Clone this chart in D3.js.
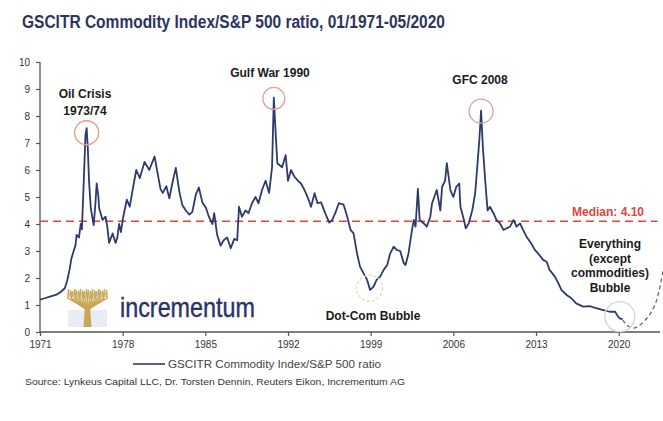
<!DOCTYPE html>
<html>
<head>
<meta charset="utf-8">
<script src="https://cdn.jsdelivr.net/npm/d3@7"></script>
<style>
  html, body { margin: 0; padding: 0; background: #fff; }
  svg { display: block; font-family: "Liberation Sans", Arial, sans-serif; }
</style>
</head>
<body>
<svg id="chart" width="663" height="421"></svg>
<script>
// GSCITR Commodity Index / S&P 500 ratio, sampled from 01/1971 to 05/2020
const years = [
  1971.0, 1971.4, 1971.9, 1972.4, 1972.8, 1973.1, 1973.3, 1973.5, 1973.65, 1973.85,
  1974.0, 1974.1, 1974.3, 1974.45, 1974.55, 1974.7, 1974.85, 1974.95, 1975.05, 1975.15,
  1975.3, 1975.45, 1975.55, 1975.7, 1975.8, 1975.95, 1976.0, 1976.3, 1976.55, 1976.7,
  1976.85, 1977.15, 1977.4, 1977.55, 1977.7, 1977.85, 1978.05, 1978.35, 1978.6, 1978.9,
  1979.15, 1979.45, 1979.85, 1980.25, 1980.7, 1980.95, 1981.2, 1981.4, 1981.7, 1981.95,
  1982.25, 1982.5, 1982.8, 1983.05, 1983.35, 1983.65, 1983.9, 1984.2, 1984.45, 1984.75,
  1985.05, 1985.3, 1985.6, 1985.75, 1986.0, 1986.3, 1986.55, 1986.85, 1987.15, 1987.45,
  1987.7, 1987.85, 1988.1, 1988.4, 1988.65, 1988.95, 1989.25, 1989.5, 1989.8, 1990.1,
  1990.4, 1990.65, 1990.8, 1990.88, 1990.95, 1991.1, 1991.5, 1991.8, 1992.0, 1992.25,
  1992.55, 1992.85, 1993.1, 1993.4, 1993.7, 1993.95, 1994.25, 1994.5, 1994.8, 1995.2,
  1995.5, 1995.75, 1996.0, 1996.3, 1996.7, 1997.0, 1997.3, 1997.55, 1997.85, 1998.1,
  1998.4, 1998.7, 1998.95, 1999.25, 1999.5, 1999.8, 2000.1, 2000.4, 2000.65, 2000.95,
  2001.2, 2001.5, 2001.8, 2001.95, 2002.2, 2002.5, 2002.65, 2002.8, 2003.0, 2003.15,
  2003.5, 2003.75, 2004.05, 2004.2, 2004.5, 2004.6, 2004.9, 2005.05, 2005.3, 2005.45,
  2005.6, 2005.75, 2006.0, 2006.25, 2006.5, 2006.6, 2006.9, 2007.05, 2007.3, 2007.6,
  2007.85, 2008.05, 2008.2, 2008.35, 2008.5, 2008.7, 2008.9, 2009.1, 2009.4, 2009.65,
  2009.95, 2010.25, 2010.5, 2010.8, 2011.1, 2011.35, 2011.65, 2011.9, 2012.2, 2012.6,
  2012.9, 2013.2, 2013.6, 2013.9, 2014.15, 2014.6, 2014.9, 2015.15, 2015.6, 2016.0,
  2016.4, 2017.0, 2017.55, 2018.1, 2018.7, 2019.25, 2019.7, 2019.95, 2020.1, 2020.33
];
const ratio = [
  1.20, 1.25, 1.32, 1.38, 1.50, 1.62, 1.90, 2.30, 2.70, 3.00,
  3.20, 3.60, 3.50, 4.00, 3.80, 5.50, 7.30, 7.55, 6.80, 5.60,
  4.60, 4.20, 3.96, 4.80, 5.50, 5.00, 4.60, 4.15, 4.27, 3.90,
  3.30, 3.65, 3.30, 3.50, 4.00, 3.70, 4.27, 4.90, 4.64, 5.40,
  6.00, 5.70, 6.30, 6.00, 6.50, 5.90, 5.30, 5.15, 5.40, 4.95,
  5.60, 6.08, 5.20, 4.70, 4.50, 4.35, 4.45, 5.10, 5.35, 4.80,
  4.60, 4.27, 4.00, 4.40, 3.60, 3.20, 3.40, 3.50, 3.10, 3.45,
  3.40, 4.64, 4.27, 4.50, 4.40, 4.77, 5.00, 4.77, 5.26, 5.60,
  5.15, 6.10, 8.68, 8.00, 7.40, 6.25, 6.10, 6.55, 5.60, 6.00,
  5.75, 5.60, 5.50, 5.26, 4.95, 4.64, 5.14, 4.77, 4.80, 4.35,
  4.05, 4.15, 4.40, 4.77, 4.72, 4.30, 3.78, 3.65, 2.90, 2.42,
  2.17, 1.93, 1.56, 1.68, 1.93, 2.05, 2.30, 2.48, 2.90, 3.16,
  3.04, 3.00, 2.55, 2.48, 2.90, 3.78, 4.15, 3.90, 5.30, 4.15,
  4.02, 3.90, 4.27, 4.77, 5.14, 5.26, 4.50, 5.38, 5.60, 6.25,
  5.75, 5.26, 5.00, 5.38, 5.50, 4.64, 4.15, 3.84, 4.02, 4.50,
  5.14, 6.25, 7.10, 8.20, 6.86, 5.60, 4.50, 4.64, 4.40, 4.15,
  4.02, 3.78, 3.84, 3.90, 4.15, 3.90, 4.02, 3.78, 3.53, 3.28,
  3.04, 2.90, 2.67, 2.60, 2.30, 2.05, 1.80, 1.56, 1.37, 1.25,
  1.06, 0.94, 0.96, 0.88, 0.81, 0.75, 0.75, 0.57, 0.50, 0.48
];

const medianValue = 4.10;
const xTicks = [1971, 1978, 1985, 1992, 1999, 2006, 2013, 2020];
const yTicks = [0, 1, 2, 3, 4, 5, 6, 7, 8, 9, 10];

// Highlighted episodes: label lines, circle centre and circle style
const eventNames = ["oil", "gulf", "gfc", "dotcom", "everything"];
const eventLabels = [["Oil Crisis", "1973/74"], ["Gulf War 1990"], ["GFC 2008"], ["Dot-Com Bubble"],
                     ["Everything", "(except", "commodities)", "Bubble"]];
const eventYears = [1974.95, 1990.8, 2008.35, 1998.9, 2020.1];
const eventValues = [7.38, 8.65, 8.18, 1.62, 0.57];
// Projected path of the deflating bubble
const bubbleYears = [2020.35, 2020.68, 2021.24, 2021.8, 2022.5, 2023.07, 2023.44, 2023.75];
const bubbleValues = [0.45, 0.26, 0.14, 0.26, 0.57, 1.00, 1.56, 2.25];

const svg = d3.select("#chart");
const W = 663, H = 421;
svg.append("rect").attr("width", W).attr("height", H).attr("fill", "#fff");

const x = d3.scaleLinear().domain([1971, 2023.5]).range([40, 660]);
const y = d3.scaleLinear().domain([0, 10]).range([332, 62]);

// Title
svg.append("text")
  .attr("x", 22).attr("y", 28)
  .attr("font-size", 18).attr("font-weight", "bold")
  .attr("fill", "#2c3560")
  .attr("textLength", 423).attr("lengthAdjust", "spacingAndGlyphs")
  .text("GSCITR Commodity Index/S&P 500 ratio, 01/1971-05/2020");

// Logo: golden tree and wordmark
const logo = svg.append("g").attr("class", "logo");
const treeGold = "#c8a756";
logo.append("rect").attr("x", 68).attr("y", 310).attr("width", 39).attr("height", 17).attr("fill", "#e8ecf4");
const trunkX = 87.5;
logo.append("path")
  .attr("d", `M${trunkX - 4},327 L${trunkX - 2.5},306 L${trunkX + 2.5},306 L${trunkX + 4},327 Z`)
  .attr("fill", treeGold);
// branches fanning from the trunk
d3.range(0, 15).forEach(i => {
  const fx = 68.5 + i * (38 / 14);
  const topY = 296 + Math.abs(i - 7) * 0.35;
  logo.append("path")
    .attr("d", `M${trunkX},${310} Q${(trunkX + fx) / 2},${304} ${fx},${topY}`)
    .attr("fill", "none").attr("stroke", treeGold).attr("stroke-width", 1.5);
});
// leafy crown
d3.range(0, 20).forEach(i => {
  const lx = 68.5 + i * 2;
  logo.append("line")
    .attr("x1", lx).attr("x2", lx + (i % 2 ? 0.8 : -0.8))
    .attr("y1", 289 + (i % 3)).attr("y2", 299)
    .attr("stroke", treeGold).attr("stroke-width", 1.4);
});
logo.append("rect").attr("x", 68).attr("y", 292).attr("width", 39).attr("height", 5)
  .attr("fill", treeGold).attr("opacity", 0.6);
logo.append("text")
  .attr("x", 120).attr("y", 317)
  .attr("font-size", 28).attr("fill", "#28336a")
  .attr("stroke", "#28336a").attr("stroke-width", 0.4)
  .attr("textLength", 135).attr("lengthAdjust", "spacingAndGlyphs")
  .text("incrementum");

// Axes
const axisColor = "#555";
const xAxis = d3.axisBottom(x).tickValues(xTicks).tickFormat(d3.format("d")).tickSize(4).tickPadding(5);
const gx = svg.append("g").attr("transform", `translate(0,${y(0)})`).call(xAxis);
const yAxis = d3.axisLeft(y).tickValues(yTicks).tickSize(4).tickPadding(6);
const gy = svg.append("g").attr("transform", `translate(${x(1971)},0)`).call(yAxis);
[gx, gy].forEach(g => {
  g.select(".domain").attr("stroke", axisColor).attr("stroke-width", 1.3);
  g.selectAll(".tick line").attr("stroke", axisColor).attr("stroke-width", 1.2);
  g.selectAll(".tick text").attr("fill", "#333").attr("font-size", 10)
    .attr("font-family", "'Liberation Sans', Arial, sans-serif");
});
gx.select(".domain").attr("d", `M${x(1971)},0H${x(2023.5)}`);
gy.select(".domain").attr("d", `M0,${y(10)}V${y(0)}`);

// Median reference line and label
svg.append("line")
  .attr("x1", x(1971)).attr("x2", x(2023.3))
  .attr("y1", y(medianValue)).attr("y2", y(medianValue))
  .attr("stroke", "#e0443e").attr("stroke-width", 1.5).attr("stroke-dasharray", "8,5");
svg.append("text")
  .attr("x", 644).attr("y", y(medianValue) - 5)
  .attr("text-anchor", "end").attr("font-size", 12).attr("font-weight", "bold")
  .attr("fill", "#e0443e")
  .text("Median: " + medianValue.toFixed(2));

// Ratio series
const series = years.map((yr, i) => ({ year: yr, value: ratio[i] }));
const line = d3.line().x(d => x(d.year)).y(d => y(d.value));
svg.append("path")
  .datum(series)
  .attr("d", line)
  .attr("fill", "none").attr("stroke", "#2e3a6c").attr("stroke-width", 1.8)
  .attr("stroke-linejoin", "round");

// Dashed projection of the bubble
const bubble = bubbleYears.map((yr, i) => ({ year: yr, value: bubbleValues[i] }));
svg.append("path")
  .datum(bubble)
  .attr("d", d3.line().x(d => x(d.year)).y(d => y(d.value)).curve(d3.curveCatmullRom))
  .attr("fill", "none").attr("stroke", "#6a6a6a").attr("stroke-width", 1.3)
  .attr("stroke-dasharray", "4,3");

// Event circles
const circleStyle = {
  oil: { r: 12, stroke: "#e79a8a", dash: null },
  gulf: { r: 11, stroke: "#e3a29a", dash: null },
  gfc: { r: 12, stroke: "#cfa3a3", dash: null },
  dotcom: { r: 13, stroke: "#dfe0b4", dash: "3,2" },
  everything: { r: 15, stroke: "#d6d6d6", dash: null }
};
eventNames.forEach((name, i) => {
  const s = circleStyle[name];
  const c = svg.append("circle")
    .attr("cx", x(eventYears[i])).attr("cy", y(eventValues[i])).attr("r", s.r)
    .attr("fill", "none").attr("stroke", s.stroke).attr("stroke-width", 1.3);
  if (s.dash) c.attr("stroke-dasharray", s.dash);
});

// Event labels
const labelPos = {
  oil: { x: 85, y: 98 },
  gulf: { x: 270, y: 77 },
  gfc: { x: 480, y: 84 },
  dotcom: { x: 373, y: 320 },
  everything: { x: 610, y: 248 }
};
eventNames.forEach((name, i) => {
  const p = labelPos[name];
  const t = svg.append("text")
    .attr("x", p.x).attr("y", p.y)
    .attr("text-anchor", "middle").attr("font-size", 12).attr("font-weight", "bold")
    .attr("fill", "#1a1a1a");
  eventLabels[i].forEach((ln, j) => {
    t.append("tspan").attr("x", p.x).attr("dy", j === 0 ? 0 : (name === "oil" ? 16.5 : 14.5)).text(ln);
  });
});

// Legend
svg.append("line")
  .attr("x1", 133).attr("x2", 165).attr("y1", 364).attr("y2", 364)
  .attr("stroke", "#2e3a6c").attr("stroke-width", 1.6);
svg.append("text")
  .attr("x", 168).attr("y", 368)
  .attr("font-size", 11.5).attr("fill", "#444")
  .attr("textLength", 213).attr("lengthAdjust", "spacingAndGlyphs")
  .text("GSCITR Commodity Index/S&P 500 ratio");

// Source note
svg.append("text")
  .attr("x", 25).attr("y", 385)
  .attr("font-size", 9.5).attr("fill", "#333")
  .attr("textLength", 380).attr("lengthAdjust", "spacingAndGlyphs")
  .text("Source: Lynkeus Capital LLC, Dr. Torsten Dennin, Reuters Eikon, Incrementum AG");
</script>
</body>
</html>
